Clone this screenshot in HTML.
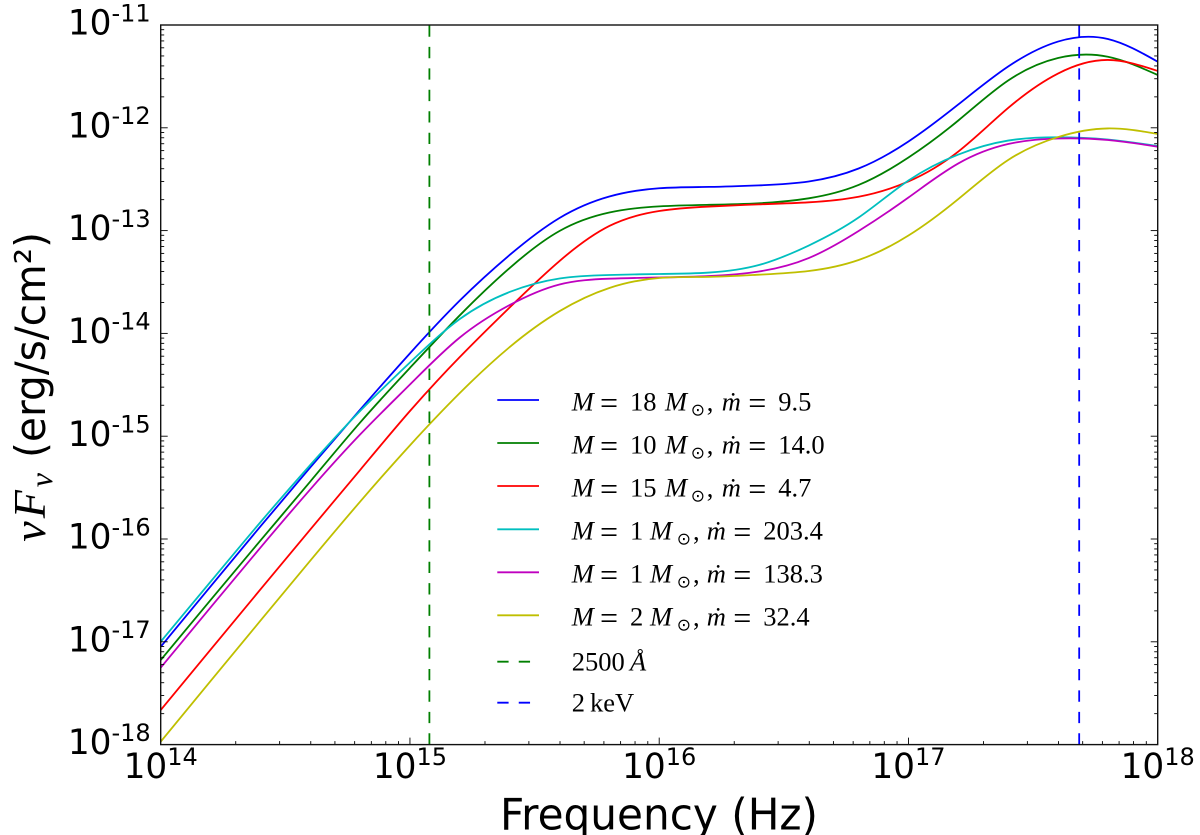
<!DOCTYPE html>
<html>
<head>
<meta charset="utf-8">
<title>SED chart</title>
<style>
html,body{margin:0;padding:0;background:#fff;width:1200px;height:835px;overflow:hidden}
svg{display:block}
.dv{font-family:"DejaVu Sans","Liberation Sans",sans-serif;fill:#000}
.lg{font-family:"Liberation Serif","DejaVu Serif",serif;font-size:26.5px;fill:#000}
.it{font-style:italic}
.eq{font-size:32px}
.sun{font-size:17px;font-family:"DejaVu Sans",sans-serif}
</style>
</head>
<body>
<svg id="chart" xmlns="http://www.w3.org/2000/svg" width="1200" height="835" viewBox="0 0 1200 835">
  <defs>
    <clipPath id="plot-clip"><rect x="160.7" y="25" width="997" height="719.6"></rect></clipPath>
  </defs>
  <rect x="160.7" y="25" width="997" height="719.6" fill="#fff"></rect>
  <g id="series" clip-path="url(#plot-clip)" fill="none"></g>
  <g id="ticks" stroke="#000" stroke-width="0.9"></g>
  <rect x="160.7" y="25" width="997" height="719.6" fill="none" stroke="#111" stroke-width="1.4"></rect>
  <g id="tick-labels"></g>

  <text class="dv" x="500" y="829.3" font-size="44" textLength="318" lengthAdjust="spacingAndGlyphs">Frequency (Hz)</text>

  <g transform="translate(45,541.7) rotate(-90)">
    <text x="0" y="0" font-family="Liberation Serif, DejaVu Serif, serif" font-style="italic" font-size="46" fill="#000" textLength="68.7">νF<tspan font-size="32" dy="7">ν</tspan></text>
    <text class="dv" x="83.7" y="0" font-size="42" textLength="226" lengthAdjust="spacingAndGlyphs">(erg/s/cm²)</text>
  </g>

  <g stroke-width="1.8">
    <g>
      <line x1="497.3" x2="539" y1="400" y2="400" stroke="#0000ff"></line>
      <text class="lg" y="410.7"><tspan class="it" x="571.7">M</tspan><tspan class="eq" x="600" dy="3">=</tspan><tspan x="630" dy="-3">18</tspan><tspan class="it" x="665">M</tspan><tspan class="sun" x="690.7" dy="5">⊙</tspan><tspan x="706.7" dy="-5">,</tspan><tspan class="it" x="721.7">ṁ</tspan><tspan class="eq" x="748.3" dy="3">=</tspan><tspan x="778.3" dy="-3">9.5</tspan></text>
    </g>
    <g>
      <line x1="497.3" x2="539" y1="443" y2="443" stroke="#007f00"></line>
      <text class="lg" y="453.7"><tspan class="it" x="571.7">M</tspan><tspan class="eq" x="600" dy="3">=</tspan><tspan x="630" dy="-3">10</tspan><tspan class="it" x="665">M</tspan><tspan class="sun" x="690.7" dy="5">⊙</tspan><tspan x="706.7" dy="-5">,</tspan><tspan class="it" x="721.7">ṁ</tspan><tspan class="eq" x="748.3" dy="3">=</tspan><tspan x="778.3" dy="-3">14.0</tspan></text>
    </g>
    <g>
      <line x1="497.3" x2="539" y1="486" y2="486" stroke="#ff0000"></line>
      <text class="lg" y="496.7"><tspan class="it" x="571.7">M</tspan><tspan class="eq" x="600" dy="3">=</tspan><tspan x="630" dy="-3">15</tspan><tspan class="it" x="665">M</tspan><tspan class="sun" x="690.7" dy="5">⊙</tspan><tspan x="706.7" dy="-5">,</tspan><tspan class="it" x="721.7">ṁ</tspan><tspan class="eq" x="748.3" dy="3">=</tspan><tspan x="778.3" dy="-3">4.7</tspan></text>
    </g>
    <g>
      <line x1="497.3" x2="539" y1="529.3" y2="529.3" stroke="#00bfbf"></line>
      <text class="lg" y="539.7"><tspan class="it" x="571.7">M</tspan><tspan class="eq" x="600" dy="3">=</tspan><tspan x="630" dy="-3">1</tspan><tspan class="it" x="650">M</tspan><tspan class="sun" x="676.7" dy="5">⊙</tspan><tspan x="693" dy="-5">,</tspan><tspan class="it" x="706.7">ṁ</tspan><tspan class="eq" x="733.3" dy="3">=</tspan><tspan x="763.3" dy="-3">203.4</tspan></text>
    </g>
    <g>
      <line x1="497.3" x2="539" y1="572.3" y2="572.3" stroke="#bf00bf"></line>
      <text class="lg" y="582.7"><tspan class="it" x="571.7">M</tspan><tspan class="eq" x="600" dy="3">=</tspan><tspan x="630" dy="-3">1</tspan><tspan class="it" x="650">M</tspan><tspan class="sun" x="676.7" dy="5">⊙</tspan><tspan x="693" dy="-5">,</tspan><tspan class="it" x="706.7">ṁ</tspan><tspan class="eq" x="733.3" dy="3">=</tspan><tspan x="763.3" dy="-3">138.3</tspan></text>
    </g>
    <g>
      <line x1="497.3" x2="539" y1="615.3" y2="615.3" stroke="#bfbf00"></line>
      <text class="lg" y="625.7"><tspan class="it" x="571.7">M</tspan><tspan class="eq" x="600" dy="3">=</tspan><tspan x="630" dy="-3">2</tspan><tspan class="it" x="650">M</tspan><tspan class="sun" x="676.7" dy="5">⊙</tspan><tspan x="693" dy="-5">,</tspan><tspan class="it" x="706.7">ṁ</tspan><tspan class="eq" x="733.3" dy="3">=</tspan><tspan x="763.3" dy="-3">32.4</tspan></text>
    </g>
    <g>
      <line x1="497.3" x2="531" y1="661.7" y2="661.7" stroke="#007f00" stroke-dasharray="11.3 10.15"></line>
      <text class="lg" y="670.7"><tspan x="571.7">2500</tspan><tspan class="it" x="630">Å</tspan></text>
    </g>
    <g>
      <line x1="497.3" x2="531" y1="702.7" y2="702.7" stroke="#0000ff" stroke-dasharray="11.3 10.15"></line>
      <text class="lg" y="711.7"><tspan x="571.7">2</tspan><tspan x="590">keV</tspan></text>
    </g>
  </g>
</svg>
<script>
// Data: log10 frequency grid and log10 flux per series
var logFreq = [14, 14.2, 14.4, 14.6, 14.8, 15, 15.2, 15.4, 15.6, 15.8, 16, 16.2, 16.4, 16.6, 16.8, 17, 17.2, 17.4, 17.6, 17.8, 18];
var seriesM18 = [-17.048, -16.461, -15.878, -15.304, -14.742, -14.194, -13.680, -13.237, -12.877, -12.668, -12.588, -12.575, -12.560, -12.522, -12.396, -12.133, -11.773, -11.404, -11.161, -11.136, -11.357];
var seriesM10 = [-17.177, -16.594, -16.015, -15.441, -14.867, -14.335, -13.824, -13.364, -13.004, -12.824, -12.764, -12.749, -12.734, -12.686, -12.556, -12.289, -11.929, -11.540, -11.321, -11.309, -11.486];
var seriesM15 = [-17.664, -17.077, -16.491, -15.908, -15.329, -14.755, -14.230, -13.748, -13.296, -12.955, -12.809, -12.766, -12.745, -12.725, -12.671, -12.522, -12.231, -11.807, -11.472, -11.340, -11.447];
var seriesM1a = [-16.999, -16.416, -15.837, -15.280, -14.755, -14.283, -13.860, -13.597, -13.466, -13.432, -13.422, -13.408, -13.335, -13.145, -12.873, -12.513, -12.260, -12.124, -12.092, -12.114, -12.177];
var seriesM1b = [-17.252, -16.666, -16.084, -15.518, -14.984, -14.497, -14.040, -13.724, -13.524, -13.468, -13.456, -13.442, -13.398, -13.267, -13.004, -12.678, -12.347, -12.158, -12.104, -12.119, -12.184];
var seriesM2 = [-17.972, -17.382, -16.795, -16.211, -15.637, -15.089, -14.580, -14.133, -13.784, -13.558, -13.461, -13.450, -13.429, -13.393, -13.286, -13.048, -12.693, -12.313, -12.090, -12.006, -12.060];
var seriesNames = ['m18', 'm10', 'm15', 'm1-a', 'm1-b', 'm2'];
var seriesColors = ['#0000ff', '#007f00', '#ff0000', '#00bfbf', '#bf00bf', '#bfbf00'];
var xTickExponents = [14, 15, 16, 17, 18];
var yTickExponents = [-11, -12, -13, -14, -15, -16, -17, -18];
var markerLogFreq = [15.078, 17.685];
var markerNames = ['2500a', '2kev'];
var markerColors = ['#007f00', '#0000ff'];

var NS = 'http://www.w3.org/2000/svg';
function xScale(lf) { return 160.7 + (lf - 14) * 249.25; }
function yScale(lv) { return 25 + (-11 - lv) * 102.8; }
function make(tag, parent) {
  var el = document.createElementNS(NS, tag);
  parent.appendChild(el);
  return el;
}
// C2 cubic spline through the data points, emitted as Bezier segments
function curvePath(xs, ys) {
  var px = xs.map(xScale), py = ys.map(yScale), n = px.length, i;
  var a = [], b = [], c = [], r = [], m = new Array(n);
  var h0 = px[1] - px[0], hn = px[n - 1] - px[n - 2];
  a[0] = 0; b[0] = 2; c[0] = 1; r[0] = 3 * (py[1] - py[0]) / h0;
  for (i = 1; i < n - 1; i++) {
    var hl = px[i] - px[i - 1], hr = px[i + 1] - px[i];
    a[i] = hr; b[i] = 2 * (hl + hr); c[i] = hl;
    r[i] = 3 * (hr * (py[i] - py[i - 1]) / hl + hl * (py[i + 1] - py[i]) / hr);
  }
  a[n - 1] = 1; b[n - 1] = 2; c[n - 1] = 0; r[n - 1] = 3 * (py[n - 1] - py[n - 2]) / hn;
  for (i = 1; i < n; i++) {
    var w = a[i] / b[i - 1];
    b[i] -= w * c[i - 1];
    r[i] -= w * r[i - 1];
  }
  m[n - 1] = r[n - 1] / b[n - 1];
  for (i = n - 2; i >= 0; i--) m[i] = (r[i] - c[i] * m[i + 1]) / b[i];
  var d = 'M' + px[0].toFixed(2) + ' ' + py[0].toFixed(2);
  for (i = 0; i < n - 1; i++) {
    var h = (px[i + 1] - px[i]) / 3;
    d += 'C' + (px[i] + h).toFixed(2) + ' ' + (py[i] + m[i] * h).toFixed(2) + ' ' +
      (px[i + 1] - h).toFixed(2) + ' ' + (py[i + 1] - m[i + 1] * h).toFixed(2) + ' ' +
      px[i + 1].toFixed(2) + ' ' + py[i + 1].toFixed(2);
  }
  return d;
}

var seriesGroup = document.getElementById('series');
var allSeries = [seriesM18, seriesM10, seriesM15, seriesM1a, seriesM1b, seriesM2];
allSeries.forEach(function (vals, i) {
  var p = make('path', seriesGroup);
  
  
  p.setAttribute('d', curvePath(logFreq, vals));
  p.setAttribute('stroke', seriesColors[i]);
  p.setAttribute('stroke-width', '1.8');
});
markerLogFreq.forEach(function (lf, i) {
  var l = make('line', seriesGroup);
  
  
  l.setAttribute('x1', xScale(lf));
  l.setAttribute('x2', xScale(lf));
  l.setAttribute('y1', yScale(-18));
  l.setAttribute('y2', yScale(-11));
  l.setAttribute('stroke', markerColors[i]);
  l.setAttribute('stroke-width', '1.8');
  l.setAttribute('stroke-dasharray', '11.3 10.15');
});

var tickGroup = document.getElementById('ticks');
function tick(x1, y1, x2, y2, name) {
  var t = make('line', tickGroup);
  
  
  t.setAttribute('x1', x1);
  t.setAttribute('y1', y1);
  t.setAttribute('x2', x2);
  t.setAttribute('y2', y2);
}
var top = yScale(-11), bottom = yScale(-18), left = xScale(14), right = xScale(18);
xTickExponents.forEach(function (e) {
  var x = xScale(e);
  if (e > 14 && e < 18) {
    tick(x, bottom, x, bottom - 7, 'x-major-tick');
    tick(x, top, x, top + 7, 'x-major-tick');
  }
  if (e < 18) {
    for (var k = 2; k < 10; k++) {
      var mx = xScale(e + Math.log10(k));
      tick(mx, bottom, mx, bottom - 3.5, 'x-minor-tick');
      tick(mx, top, mx, top + 3.5, 'x-minor-tick');
    }
  }
});
yTickExponents.forEach(function (e) {
  var y = yScale(e);
  if (e > -18 && e < -11) {
    tick(left, y, left + 7, y, 'y-major-tick');
    tick(right, y, right - 7, y, 'y-major-tick');
  }
  if (e > -18) {
    for (var k = 2; k < 10; k++) {
      var my = yScale(e - 1 + Math.log10(k));
      tick(left, my, left + 3.5, my, 'y-minor-tick');
      tick(right, my, right - 3.5, my, 'y-minor-tick');
    }
  }
});

var labelGroup = document.getElementById('tick-labels');
function tickLabel(x, y, exp, anchor, name) {
  var t = make('text', labelGroup);
  
  
  t.setAttribute('class', 'dv');
  t.setAttribute('x', x);
  t.setAttribute('y', y);
  t.setAttribute('font-size', '34.3');
  t.setAttribute('text-anchor', anchor);
  t.appendChild(document.createTextNode('10'));
  var s = make('tspan', t);
  s.setAttribute('font-size', '24');
  s.setAttribute('dy', '-13.3');
  s.textContent = String(exp);
}
xTickExponents.forEach(function (e) {
  tickLabel(xScale(e), 778.2, e, 'middle', 'x-tick-label');
});
yTickExponents.forEach(function (e) {
  tickLabel(150.7, yScale(e) + 9.6, e, 'end', 'y-tick-label');
});
</script>
</body>
</html>
